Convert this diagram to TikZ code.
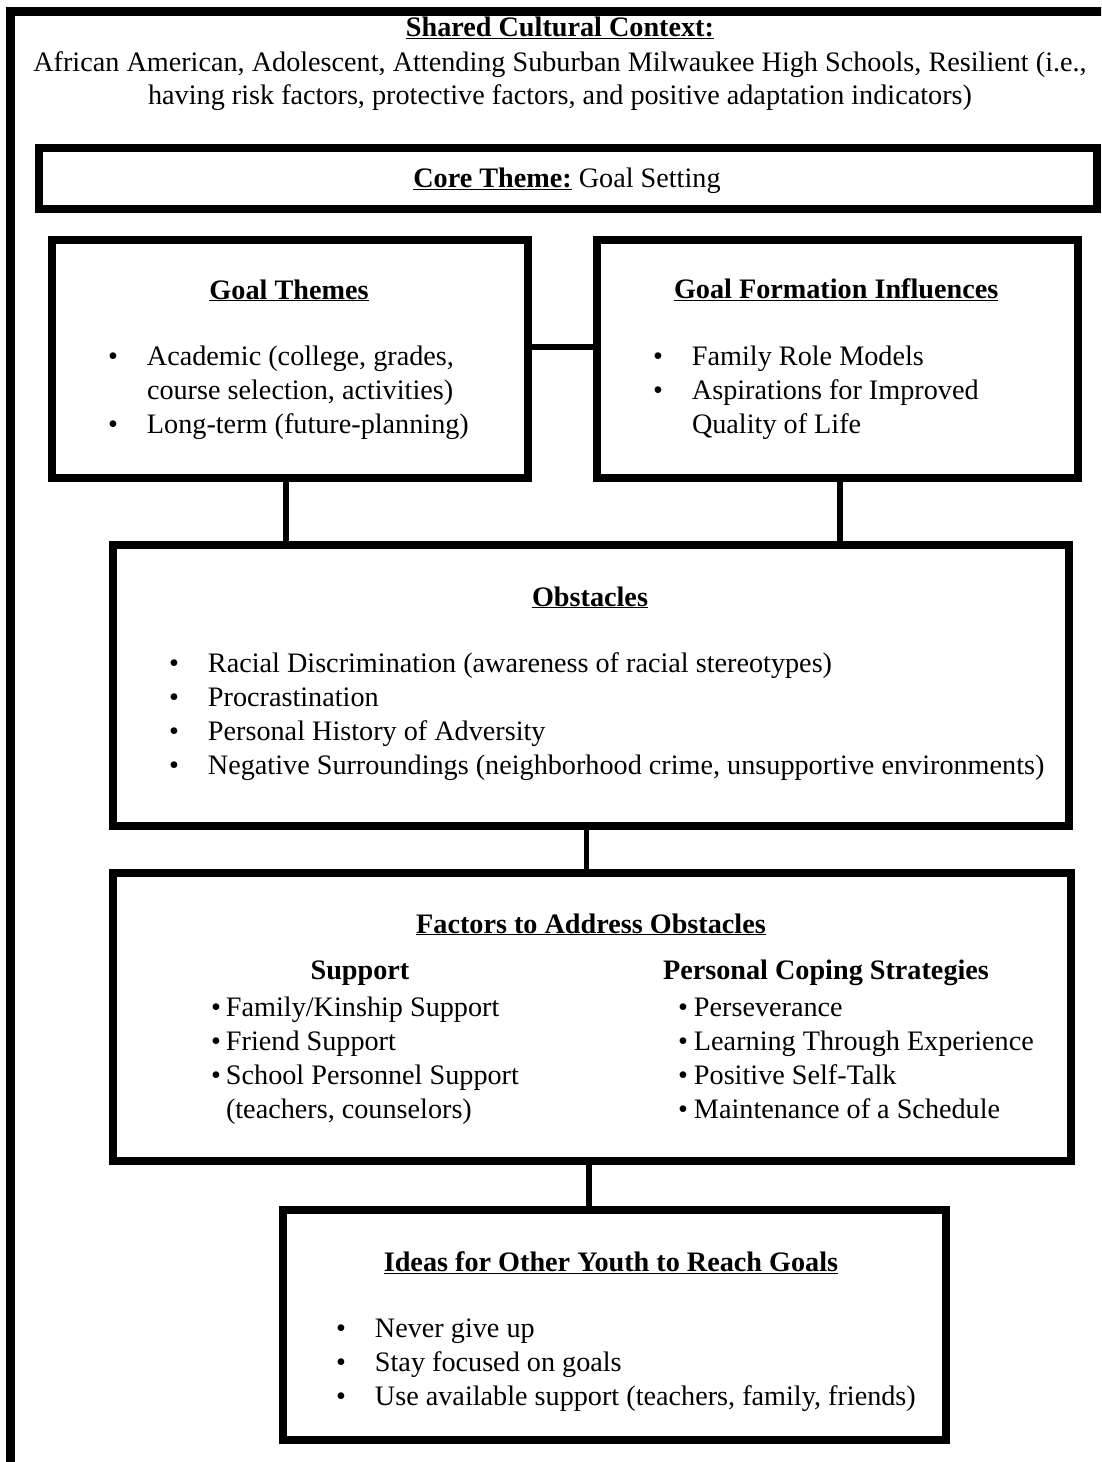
\documentclass[tikz,border=0pt]{standalone}
\usepackage{fontspec}
\setmainfont{Liberation Serif}
\newcommand{\ulbf}[1]{\underline{\textbf{#1}}}
\newcommand{\bul}{\makebox[39pt][l]{\textbullet}}
\newcommand{\bulb}{\makebox[16pt][l]{\textbullet}}
\newcommand{\bulc}{\makebox[15pt][l]{\textbullet}}
\tikzset{
  box/.style={draw=black, line width=8pt, fill=white, inner sep=0pt},
  frame/.style={draw=black, line width=9pt},
  link/.style={draw=black, line width=5.5pt},
  txt/.style={inner sep=0pt, outer sep=0pt},
}
\begin{document}
\begin{tikzpicture}[x=1pt,y=-1pt,font=\fontsize{28.2}{34.3}\selectfont]
\useasboundingbox (0,0) rectangle (1101,1462);
\begin{scope}
\clip (0,0) rectangle (1101,1462);
\draw[frame] (10,11) rectangle (1160,1520);
\end{scope}

% header text
\node[txt,anchor=base] (hd) at (560,36) {\ulbf{Shared Cultural Context:}};
\node[txt,anchor=base] (hd1) at (560,71) {African American, Adolescent, Attending Suburban Milwaukee High Schools, Resilient (i.e.,};
\node[txt,anchor=base] (hd2) at (560,104) {having risk factors, protective factors, and positive adaptation indicators)};

% boxes
\node[box,minimum width=1058pt,minimum height=61pt] (core) at (568,178.5) {};
\node[box,minimum width=476.5pt,minimum height=238pt] (gt) at (289.75,359) {};
\node[box,minimum width=481pt,minimum height=238pt] (gf) at (837.5,359) {};
\node[box,minimum width=956pt,minimum height=281pt] (ob) at (591,685.5) {};
\node[box,minimum width=958pt,minimum height=287.5pt] (fa) at (592,1016.75) {};
\node[box,minimum width=663pt,minimum height=230pt] (id) at (614.5,1325) {};

% connectors
\draw[link] ([yshift=12pt]gt.east) -- ([yshift=12pt]gf.west);
\draw[link] ([xshift=-3.75pt]gt.south) -- ([xshift=-3.75pt]gt.south |- ob.north);
\draw[link] ([xshift=2.5pt]gf.south) -- ([xshift=2.5pt]gf.south |- ob.north);
\draw[link] ([xshift=-4.5pt]ob.south) -- ([xshift=-4.5pt]ob.south |- fa.north);
\draw[link] ([xshift=-3pt]fa.south) -- ([xshift=-3pt]fa.south |- id.north);

% core
\node[txt,anchor=base] (coret) at (567,187) {\ulbf{Core Theme:} Goal Setting};

% goal themes
\node[txt,anchor=base] (gtt) at (289,299) {\ulbf{Goal Themes}};
\node[txt,anchor=base west] (gtl) at (108,365) {\begin{tabular}[t]{@{}l@{}}
\bul Academic (college, grades,\\
\makebox[39pt]{}course selection, activities)\\
\bul Long-term (future-planning)
\end{tabular}};

% goal formation
\node[txt,anchor=base west] (gft) at (674,298) {\ulbf{Goal Formation Influences}};
\node[txt,anchor=base west] (gfl) at (653,365) {\begin{tabular}[t]{@{}l@{}}
\bul Family Role Models\\
\bul Aspirations for Improved\\
\makebox[39pt]{}Quality of Life
\end{tabular}};

% obstacles
\node[txt,anchor=base] (obt) at (590,606) {\ulbf{Obstacles}};
\node[txt,anchor=base west] (obl) at (169,672) {\begin{tabular}[t]{@{}l@{}}
\bul Racial Discrimination (awareness of racial stereotypes)\\
\bul Procrastination\\
\bul Personal History of Adversity\\
\bul Negative Surroundings (neighborhood crime, unsupportive environments)
\end{tabular}};

% factors
\node[txt,anchor=base] (fat) at (591,933) {\ulbf{Factors to Address Obstacles}};
\node[txt,anchor=base] (fas) at (360,979) {\textbf{Support}};
\node[txt,anchor=base] (fap) at (826,979) {\textbf{Personal Coping Strategies}};
\node[txt,anchor=base west] (fal) at (211,1016) {\begin{tabular}[t]{@{}l@{}}
\bulc Family/Kinship Support\\
\bulc Friend Support\\
\bulc School Personnel Support\\
\makebox[15pt]{}(teachers, counselors)
\end{tabular}};
\node[txt,anchor=base west] (far) at (678,1016) {\begin{tabular}[t]{@{}l@{}}
\bulb Perseverance\\
\bulb Learning Through Experience\\
\bulb Positive Self-Talk\\
\bulb Maintenance of a Schedule
\end{tabular}};

% ideas
\node[txt,anchor=base] (idt) at (611,1271) {\ulbf{Ideas for Other Youth to Reach Goals}};
\node[txt,anchor=base west] (idl) at (336,1337) {\begin{tabular}[t]{@{}l@{}}
\bul Never give up\\
\bul Stay focused on goals\\
\bul Use available support (teachers, family, friends)
\end{tabular}};
\end{tikzpicture}
\end{document}
